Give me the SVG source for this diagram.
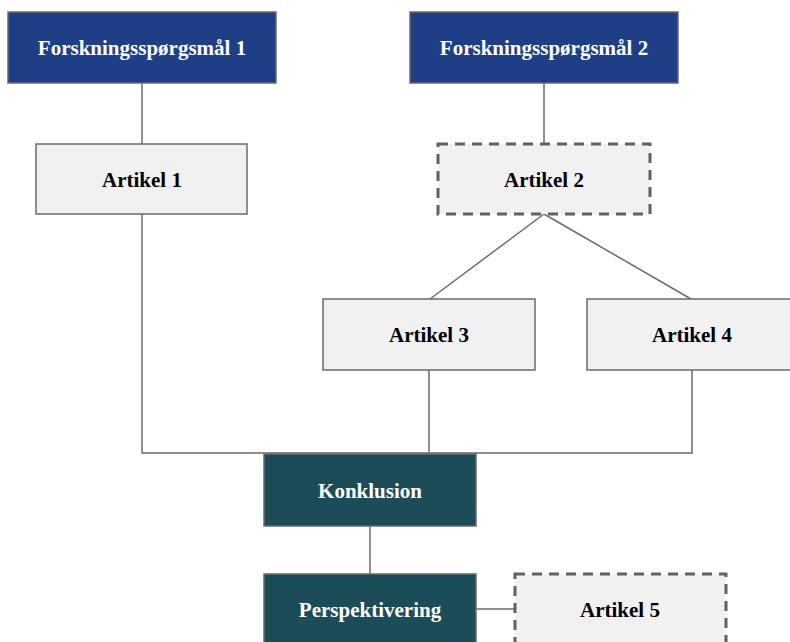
<svg xmlns="http://www.w3.org/2000/svg" width="790" height="642" viewBox="0 0 790 642">
<style>
text{font-family:"Liberation Serif","Times New Roman",serif;font-weight:bold;font-size:21px;text-anchor:middle}
.blue{fill:#1e3f85;stroke:#6b6b6b;stroke-width:1.5}
.teal{fill:#1d4c59;stroke:#6b6b6b;stroke-width:1.5}
.light{fill:#f1f1f1;stroke:#6b6b6b;stroke-width:1.5}
.dash{fill:#f1f1f1;stroke:#616161;stroke-width:3;stroke-dasharray:10 7}
.w{fill:#ffffff}
.k{fill:#000000}
.c{fill:none;stroke:#6b6b6b;stroke-width:1.5}
</style>
<rect width="790" height="642" fill="#ffffff"/>
<g id="connectors">
<line class="c" x1="142" y1="83" x2="142" y2="144"/>
<line class="c" x1="544" y1="83" x2="544" y2="144"/>
<polyline class="c" points="142,214 142,453 692,453 692,370"/>
<line class="c" x1="429" y1="370" x2="429" y2="453"/>
<line class="c" x1="544" y1="214" x2="430" y2="299"/>
<line class="c" x1="544" y1="214" x2="691" y2="299"/>
<line class="c" x1="370" y1="526" x2="370" y2="574"/>
<line class="c" x1="476" y1="609" x2="515" y2="609"/>
</g>
<g id="fq1"><rect class="blue" x="8" y="12" width="268" height="71"/><text class="w" x="142" y="55">Forskningsspørgsmål 1</text></g>
<g id="fq2"><rect class="blue" x="410" y="12" width="268" height="71"/><text class="w" x="544" y="55">Forskningsspørgsmål 2</text></g>
<g id="artikel1"><rect class="light" x="36" y="144" width="211" height="70"/><text class="k" x="142" y="187">Artikel 1</text></g>
<g id="artikel2"><rect class="dash" x="438" y="144" width="212" height="70"/><text class="k" x="544" y="187">Artikel 2</text></g>
<g id="artikel3"><rect class="light" x="323" y="299" width="212" height="71"/><text class="k" x="429" y="342">Artikel 3</text></g>
<g id="artikel4"><rect class="light" x="587" y="299" width="212" height="71"/><text class="k" x="692" y="342">Artikel 4</text></g>
<g id="konklusion"><rect class="teal" x="264" y="454" width="212" height="72"/><text class="w" x="370" y="498">Konklusion</text></g>
<g id="perspektivering"><rect class="teal" x="264" y="574" width="212" height="72"/><text class="w" x="370" y="617">Perspektivering</text></g>
<g id="artikel5"><rect class="dash" x="515" y="574" width="211" height="72"/><text class="k" x="620" y="617">Artikel 5</text></g>
</svg>
